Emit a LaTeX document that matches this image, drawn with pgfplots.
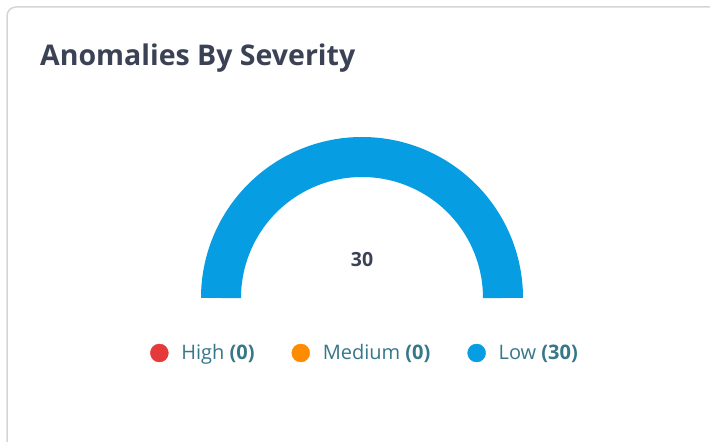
\documentclass[border=0pt]{standalone}
\usepackage{pgfplots}
\usepackage{pgfplotstable}
\pgfplotsset{compat=1.18}
\usepackage{fontspec}
\setmainfont{Open Sans}

\definecolor{lowblue}{HTML}{079DE3}
\definecolor{highred}{HTML}{E53A3A}
\definecolor{medorange}{HTML}{FF8C00}
\definecolor{titlecol}{HTML}{3B4256}
\definecolor{legcol}{HTML}{37778A}
\definecolor{cardborder}{HTML}{D3D5D9}

\pgfplotstableread{
severity value
High 0
Medium 0
Low 30
}\sevdata

\newcommand\gaugeslice[3]{%
  \pgfmathsetmacro\slicespan{#1-#2}%
  \ifdim\slicespan pt>0.001pt
    \addplot[draw=#3, line width=40pt, domain=#2:#1, samples=181, forget plot]
      ({362+141*cos(x)},{144+141*sin(x)});
  \fi}

\begin{document}
\pgfplotstablegetelem{0}{value}\of\sevdata \edef\vHigh{\pgfplotsretval}%
\pgfplotstablegetelem{1}{value}\of\sevdata \edef\vMed{\pgfplotsretval}%
\pgfplotstablegetelem{2}{value}\of\sevdata \edef\vLow{\pgfplotsretval}%
\pgfmathsetmacro\vTotal{\vHigh+\vMed+\vLow}%
\pgfmathsetmacro\aH{180}%
\pgfmathsetmacro\aM{180-180*\vHigh/\vTotal}%
\pgfmathsetmacro\aL{\aM-180*\vMed/\vTotal}%
\pgfmathsetmacro\aE{\aL-180*\vLow/\vTotal}%
\pgfmathtruncatemacro\vTotalInt{\vTotal}%
\begin{tikzpicture}
\clip (0,0) rectangle (710pt,442pt);
\fill[white] (0,0) rectangle (710pt,442pt);
\begin{axis}[
  x=1pt, y=1pt,
  xmin=0, xmax=710, ymin=0, ymax=442,
  at={(0,0)}, anchor=origin,
  hide axis, clip=false,
  legend columns=3,
  legend style={
    at={(axis cs:365,89)}, anchor=center,
    draw=none, fill=none,
    font=\fontsize{20}{24}\selectfont,
    text=legcol,
    /tikz/every even column/.append style={column sep=35pt},
  },
]
% card
\draw[cardborder, line width=1.5pt, rounded corners=9pt]
  (axis cs:7,-20) -- (axis cs:7,435) -- (axis cs:730,435);

% gauge slices
\gaugeslice{\aH}{\aM}{highred}
\gaugeslice{\aM}{\aL}{medorange}
\gaugeslice{\aL}{\aE}{lowblue}

\node[anchor=base west, inner sep=0pt, text=titlecol, font=\fontsize{28.5}{32}\selectfont\bfseries]
  at (axis cs:40,376) {Anomalies By Severity};
\node[anchor=base, inner sep=0pt, text=titlecol, font=\fontsize{19.5}{22}\selectfont\bfseries]
  at (axis cs:362,175) {\vTotalInt};

\addlegendimage{highred, legend image code/.code={\path[draw=none,fill=none] (0pt,0pt) (29pt,0pt); \fill (9pt,0pt) circle (9pt);}}
\addlegendentry{High \textbf{(\vHigh)}}
\addlegendimage{medorange, legend image code/.code={\path[draw=none,fill=none] (0pt,0pt) (29pt,0pt); \fill (9pt,0pt) circle (9pt);}}
\addlegendentry{Medium \textbf{(\vMed)}}
\addlegendimage{lowblue, legend image code/.code={\path[draw=none,fill=none] (0pt,0pt) (29pt,0pt); \fill (9pt,0pt) circle (9pt);}}
\addlegendentry{Low \textbf{(\vLow)}}
\end{axis}
\end{tikzpicture}
\end{document}
